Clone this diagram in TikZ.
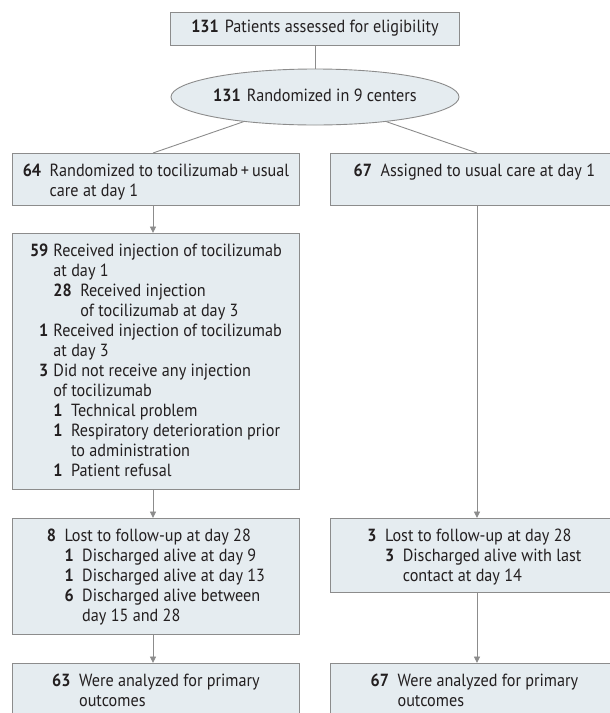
\documentclass[tikz,border=0pt]{standalone}
\usepackage{fontspec}
\setmainfont{PT Sans}[FakeStretch=0.92]
\usetikzlibrary{arrows.meta,shapes.geometric,calc}
\definecolor{boxfill}{HTML}{E5ECF0}
\definecolor{boxline}{HTML}{8C8C8C}
\definecolor{conn}{HTML}{8C8C8C}
\definecolor{ink}{HTML}{231F20}
\newcommand{\nm}[1]{\textbf{#1}}
\newcommand{\gapA}{\hspace{8.5pt}}
\begin{document}
\begin{tikzpicture}[x=1pt,y=-1pt,
  box/.style={draw=boxline,fill=boxfill,line width=0.9pt,inner sep=0pt,anchor=north west},
  oval/.style={ellipse,draw=boxline,fill=boxfill,line width=0.9pt,inner sep=0pt},
  txt/.style={inner sep=0pt,text=ink,font=\fontsize{17.6}{20}\selectfont},
  conn/.style={draw=conn,line width=0.9pt},
  arr/.style={conn,-{Triangle[length=6.5pt,width=6pt]}}]
\useasboundingbox (0,0) rectangle (610,713);
\clip (0,0) rectangle (610,713);
\coordinate (lx) at (153,0);
\coordinate (rx) at (477,0);
% top
\node[box,minimum width=289pt,minimum height=33pt] (top) at (170,12) {};
\node[txt] (topt) at ([yshift=1pt]top.center) {\nm{131}\hspace{6pt}Patients assessed for eligibility};
\node[oval,minimum width=288pt,minimum height=56pt] (rand) at (315,97) {};
\node[txt] (randt) at ([yshift=2pt]rand.center) {\nm{131}\hspace{6pt}Randomized in 9 centers};
% left column
\node[box,minimum width=287pt,minimum height=52pt] (l1) at (12,153) {};
\node[txt,anchor=north] (l1t) at ([yshift=-9.5pt]l1.north) {\begin{tabular}{@{}r@{\gapA}l@{}}
\nm{64} & Randomized to tocilizumab\,+\,usual\\
 & care at day 1
\end{tabular}};
\node[box,minimum width=287pt,minimum height=256pt] (l2) at (12,233) {};
\node[txt,anchor=north] (l2t) at ([yshift=-9.5pt]l2.north) {\begin{tabular}{@{}r@{\hspace{5pt}}l@{}}
\nm{59} & Received injection of tocilizumab\\
 & at day 1\\
 & \nm{28}\gapA Received injection\\
 & \phantom{\nm{28}\gapA}of tocilizumab at day 3\\
\nm{1} & Received injection of tocilizumab\\
 & at day 3\\
\nm{3} & Did not receive any injection\\
 & of tocilizumab\\
 & \nm{1}\gapA Technical problem\\
 & \nm{1}\gapA Respiratory deterioration prior\\
 & \phantom{\nm{1}\gapA}to administration\\
 & \nm{1}\gapA Patient refusal
\end{tabular}};
\node[box,minimum width=287pt,minimum height=116pt] (l3) at (12,518) {};
\node[txt,anchor=north] (l3t) at ([yshift=-9.5pt]l3.north) {\begin{tabular}{@{}r@{\gapA}l@{}}
\nm{8} & Lost to follow-up at day 28\\
 & \nm{1}\gapA Discharged alive at day 9\\
 & \nm{1}\gapA Discharged alive at day 13\\
 & \nm{6}\gapA Discharged alive between\\
 & \phantom{\nm{6}\gapA}day 15 and 28
\end{tabular}};
\node[box,minimum width=287pt,minimum height=80pt] (l4) at (12,663) {};
\node[txt,anchor=north] (l4t) at ([yshift=-9.5pt]l4.north) {\begin{tabular}{@{}r@{\gapA}l@{}}
\nm{63} & Were analyzed for primary\\
 & outcomes
\end{tabular}};
% right column
\node[box,minimum width=294pt,minimum height=52pt] (r1) at (330,153) {};
\node[txt,anchor=north] (r1t) at ([xshift=-3pt,yshift=-9.5pt]r1.north) {\begin{tabular}{@{}r@{\gapA}l@{}}
\nm{67} & Assigned to usual care at day 1
\end{tabular}};
\node[box,minimum width=294pt,minimum height=74pt] (r3) at (330,518) {};
\node[txt,anchor=north] (r3t) at ([xshift=-3pt,yshift=-9.5pt]r3.north) {\begin{tabular}{@{}r@{\gapA}l@{}}
\nm{3} & Lost to follow-up at day 28\\
 & \nm{3}\gapA Discharged alive with last\\
 & \phantom{\nm{3}\gapA}contact at day 14
\end{tabular}};
\node[box,minimum width=294pt,minimum height=80pt] (r4) at (330,663) {};
\node[txt,anchor=north] (r4t) at ([xshift=-3pt,yshift=-9.5pt]r4.north) {\begin{tabular}{@{}r@{\gapA}l@{}}
\nm{67} & Were analyzed for primary\\
 & outcomes
\end{tabular}};
% connectors
\draw[conn] (top.south -| rand.north) -- (rand.north);
\draw[conn] (rand) -- (l1.north -| lx);
\draw[conn] (rand) -- (r1.north -| rx);
\draw[arr] (l1.south -| lx) -- (l2.north -| lx);
\draw[arr] (l2.south -| lx) -- (l3.north -| lx);
\draw[arr] (l3.south -| lx) -- (l4.north -| lx);
\draw[arr] (r1.south -| rx) -- (r3.north -| rx);
\draw[arr] (r3.south -| rx) -- (r4.north -| rx);
\end{tikzpicture}
\end{document}
